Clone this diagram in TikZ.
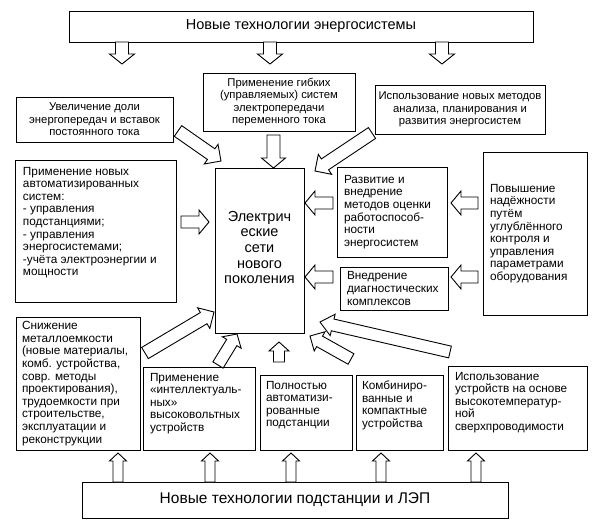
\documentclass[tikz,border=0pt]{standalone}
\usepackage{fontspec}
\setmainfont{Liberation Sans}
\usetikzlibrary{calc}
\newcommand\tl[4]{\parbox[c][#2pt][#3]{#1pt}{\raggedright #4}}
\newcommand\tc[3]{\parbox[c][#2pt][c]{#1pt}{\centering #3}}
% block arrow: tail, tip, half body, half head, head length
\newcommand\barrow[5]{%
  \coordinate (nk) at ($(#2)!#5!(#1)$);
  \draw[barr] ($(#1)!#3!90:(#2)$) -- ($(nk)!#3!90:(#2)$) -- ($(nk)!#4!90:(#2)$)
    -- (#2) -- ($(nk)!#4!-90:(#2)$) -- ($(nk)!#3!-90:(#2)$) -- ($(#1)!#3!-90:(#2)$) -- cycle;}
\begin{document}
\begin{tikzpicture}[x=1pt,y=-1pt,
  bx/.style={draw, line width=0.9pt, inner sep=0pt},
  barr/.style={draw, fill=white, line width=0.9pt, line join=miter},
  txt/.style={font=\fontsize{11.8}{12.6}\selectfont},
  ttxt/.style={font=\fontsize{11.3}{12.6}\selectfont}]
\fill[white] (0,0) rectangle (606,532);
\useasboundingbox (0,0) rectangle (606,532);

% boxes
\node[bx, minimum width=464pt, minimum height=31pt, font=\fontsize{14.5}{16}\selectfont] (ntop) at (301,26.5) {Новые технологии энергосистемы};
\node[bx, ttxt, minimum width=152pt, minimum height=58pt] (flex) at (279,102) {\tc{148}{52}{Применение гибких\\ (управляемых) систем\\ электропередачи\\ переменного тока}};
\node[bx, ttxt, minimum width=157pt, minimum height=45pt] (inc) at (94.5,119.5) {\tc{153}{40}{Увеличение доли\\ энергопередач и вставок\\ постоянного тока}};
\node[bx, ttxt, minimum width=170pt, minimum height=49pt] (meth) at (460,109.5) {\tc{168}{44}{Использование новых методов\\ анализа, планирования и\\ развития энергосистем}};
\node[bx, txt, minimum width=161pt, minimum height=142pt] (auto) at (95.5,231) {\tl{145}{128}{t}{Применение новых\\ автоматизированных\\ систем:\\ - управления\\ подстанциями;\\ - управления\\ энергосистемами;\\ -учёта электроэнергии и\\ мощности}};
\node[bx, minimum width=89pt, minimum height=165pt, font=\fontsize{14.5}{15.7}\selectfont] (ctr) at (259.5,250.5) {\tc{85}{160}{Электрич\\ еские\\ сети\\ нового\\ поколения\\[6pt]}};
\node[bx, txt, minimum width=110pt, minimum height=90pt] (dev) at (392,212) {\tl{96}{80}{c}{Развитие и\\ внедрение\\ методов оценки\\ работоспособ-\\ ности\\ энергосистем}};
\node[bx, txt, minimum width=108pt, minimum height=43pt] (diag) at (394,288.5) {\tl{94}{37}{c}{Внедрение\\ диагностических\\ комплексов}};
\node[bx, txt, minimum width=104pt, minimum height=163pt] (rel) at (535,233.5) {\tl{90}{151}{c}{Повышение\\ надёжности\\ путём\\ углублённого\\ контроля и\\ управления\\ параметрами\\ оборудования}};
\node[bx, txt, minimum width=124pt, minimum height=133pt] (sni) at (78,383.5) {\tl{112}{129}{c}{Снижение\\ металлоемкости\\ (новые материалы,\\ комб. устройства,\\ совр. методы\\ проектирования),\\ трудоемкости при\\ строительстве,\\ эксплуатации и\\ реконструкции}};
\node[bx, txt, minimum width=112pt, minimum height=83pt] (int) at (199,408.5) {\tl{98}{71}{t}{Применение\\ «интеллектуаль-\\ ных»\\ высоковольтных\\ устройств}};
\node[bx, txt, minimum width=92pt, minimum height=75pt] (full) at (306,412.5) {\tl{80}{63}{t}{Полностью\\ автоматизи-\\ рованные\\ подстанции}};
\node[bx, txt, minimum width=87pt, minimum height=75pt] (comb) at (399.5,412.5) {\tl{75}{63}{t}{Комбиниро-\\ ванные и\\ компактные\\ устройства}};
\node[bx, txt, minimum width=139pt, minimum height=84pt] (use) at (517.5,408) {\tl{125}{72}{t}{Использование\\ устройств на основе\\ высокотемператур-\\ ной\\ сверхпроводимости}};
\node[bx, minimum width=426pt, minimum height=36pt, font=\fontsize{15.5}{18}\selectfont] (nbot) at (295,500) {Новые технологии подстанции и ЛЭП};

% arrow end points
\coordinate (t1a) at (122,42);  \coordinate (t1b) at (122,64);
\coordinate (t2a) at (270,42);  \coordinate (t2b) at (270,64);
\coordinate (t3a) at (442,42);  \coordinate (t3b) at (442,64);
\coordinate (fa) at (273.5,135); \coordinate (fb) at (273.5,168);
\coordinate (ia) at (178,131);  \coordinate (ib) at (221,161);
\coordinate (ma) at (372,133);  \coordinate (mb) at (315,171);
\coordinate (aa) at (181,222);  \coordinate (ab) at (209,222);
\coordinate (da) at (333,203);  \coordinate (db) at (305,203);
\coordinate (ra) at (478,203);  \coordinate (rb) at (451,203);
\coordinate (ga) at (333,277);  \coordinate (gb) at (305,277);
\coordinate (qa) at (478,277);  \coordinate (qb) at (451,277);
\coordinate (sa) at (145,353);  \coordinate (sb) at (214,312);
\coordinate (na) at (218,365);  \coordinate (nb) at (237,334);
\coordinate (pa) at (279,362);  \coordinate (pb) at (279,342);
\coordinate (ka) at (351,359);  \coordinate (kb) at (310,336);
\coordinate (ua) at (450,352);  \coordinate (ub) at (320,322);
\coordinate (b1a) at (118,482); \coordinate (b1b) at (118,453);
\coordinate (b2a) at (210,482); \coordinate (b2b) at (210,453);
\coordinate (b3a) at (291,482); \coordinate (b3b) at (291,453);
\coordinate (b4a) at (381,482); \coordinate (b4b) at (381,453);
\coordinate (b5a) at (476,482); \coordinate (b5b) at (476,453);

\barrow{t1a}{t1b}{6.5pt}{12.5pt}{10pt}
\barrow{t2a}{t2b}{6.5pt}{12.5pt}{10pt}
\barrow{t3a}{t3b}{6.5pt}{12.5pt}{10pt}
\barrow{fa}{fb}{6.5pt}{12pt}{10pt}
\barrow{ia}{ib}{6.5pt}{12pt}{12pt}
\barrow{ma}{mb}{6.5pt}{12pt}{12pt}
\barrow{aa}{ab}{6pt}{12pt}{10pt}
\barrow{da}{db}{6pt}{12pt}{10pt}
\barrow{ra}{rb}{6pt}{12pt}{10pt}
\barrow{ga}{gb}{6pt}{12pt}{10pt}
\barrow{qa}{qb}{6pt}{12pt}{10pt}
\barrow{sa}{sb}{6.5pt}{12pt}{12pt}
\barrow{na}{nb}{6pt}{11pt}{10pt}
\barrow{pa}{pb}{5.5pt}{10pt}{9pt}
\barrow{ka}{kb}{6pt}{11pt}{11pt}
\barrow{ua}{ub}{6pt}{11pt}{13pt}
\barrow{b1a}{b1b}{5pt}{8.5pt}{8pt}
\barrow{b2a}{b2b}{5pt}{8.5pt}{8pt}
\barrow{b3a}{b3b}{5pt}{8.5pt}{8pt}
\barrow{b4a}{b4b}{5pt}{8.5pt}{8pt}
\barrow{b5a}{b5b}{5pt}{8.5pt}{8pt}
\end{tikzpicture}
\end{document}
